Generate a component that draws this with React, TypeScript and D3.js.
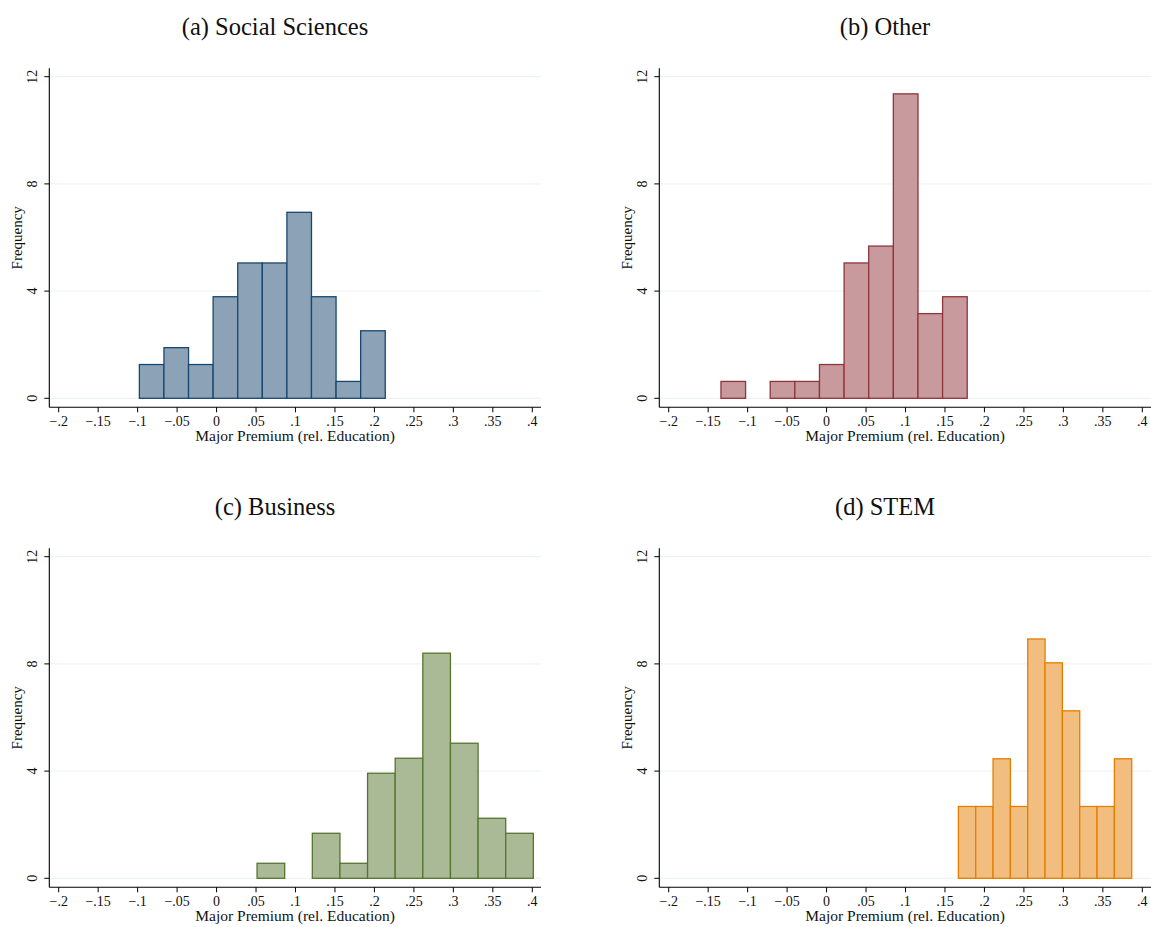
import { useRef, useEffect } from "react";
import * as d3 from "d3";

// panel titles and bar colours (Stata s2color: navy, maroon, forest_green, dkorange)
const titles = ["(a) Social Sciences", "(b) Other", "(c) Business", "(d) STEM"];
const strokeColors = ["#1a476f", "#90353b", "#55752f", "#e37e00"];
const fillColors = ["#8ca3b7", "#c89a9d", "#aaba97", "#f1be80"];

// histogram bins: first edge and bin width per panel
const binStart = [-0.0978, -0.1338, 0.0513, 0.167];
const binWidth = [0.03115, 0.0312, 0.035, 0.02196];

// bar heights (Frequency)
const socialSciences = [1.26, 1.89, 1.26, 3.79, 5.05, 5.05, 6.94, 3.79, 0.63, 2.52];
const other = [0.63, 0, 0.63, 0.63, 1.26, 5.05, 5.68, 11.36, 3.16, 3.79];
const business = [0.56, 0, 1.68, 0.56, 3.92, 4.48, 8.4, 5.04, 2.24, 1.68];
const stem = [2.68, 2.68, 4.46, 2.68, 8.93, 8.04, 6.25, 2.68, 2.68, 4.46];
const series = [socialSciences, other, business, stem];

const xTicks = [-0.2, -0.15, -0.1, -0.05, 0, 0.05, 0.1, 0.15, 0.2, 0.25, 0.3, 0.35, 0.4];
const yTicks = [0, 4, 8, 12];

const W = 1151;
const H = 927;
const FONT = "'Liberation Serif', 'DejaVu Serif', serif";

function fmtX(v: number) {
  if (Math.abs(v) < 1e-9) return "0";
  const s = d3.format(".2~f")(Math.abs(v)).replace(/^0/, "");
  return (v < 0 ? "\u2212" : "") + s;
}

export default function App() {
  const svgRef = useRef<SVGSVGElement | null>(null);

  useEffect(() => {
    const svg = d3.select(svgRef.current);
    svg.selectAll("*").remove();

    // layout of one panel (top-left), others offset
    const dx = 610;
    const dy = 480;
    const left = 49.3;
    const right = 541;
    const top = 68.3;
    const bottom = 407.3;

    series.forEach((vals, pi) => {
      const ox = (pi % 2) * dx;
      const oy = Math.floor(pi / 2) * dy;
      const g = svg.append("g").attr("transform", `translate(${ox},${oy})`);

      const x = d3.scaleLinear().domain([-0.2, 0.4]).range([58.7, 532.3]);
      const y = d3.scaleLinear().domain([0, 12]).range([398.3, 76.7]);

      // title
      g.append("text")
        .attr("x", 275)
        .attr("y", 35)
        .attr("text-anchor", "middle")
        .attr("font-family", FONT)
        .attr("font-size", 24.5)
        .attr("fill", "#111")
        .text(titles[pi]);

      // gridlines
      g.selectAll("line.grid")
        .data(yTicks)
        .join("line")
        .attr("class", "grid")
        .attr("x1", left)
        .attr("x2", right)
        .attr("y1", (d) => y(d))
        .attr("y2", (d) => y(d))
        .attr("stroke", "#eaf2f3")
        .attr("stroke-width", 1);

      // bars
      const bins = vals.map((v, i) => ({
        x0: binStart[pi] + i * binWidth[pi],
        x1: binStart[pi] + (i + 1) * binWidth[pi],
        v,
      }));
      g.selectAll("rect.bar")
        .data(bins.filter((b) => b.v > 0))
        .join("rect")
        .attr("class", "bar")
        .attr("x", (d) => x(d.x0))
        .attr("width", (d) => x(d.x1) - x(d.x0))
        .attr("y", (d) => y(d.v))
        .attr("height", (d) => y(0) - y(d.v))
        .attr("fill", fillColors[pi])
        .attr("stroke", strokeColors[pi])
        .attr("stroke-width", 1.3);

      // axis lines
      g.append("line")
        .attr("x1", left)
        .attr("x2", left)
        .attr("y1", top)
        .attr("y2", bottom)
        .attr("stroke", "#000")
        .attr("stroke-width", 1.1);
      g.append("line")
        .attr("x1", left)
        .attr("x2", right)
        .attr("y1", bottom)
        .attr("y2", bottom)
        .attr("stroke", "#000")
        .attr("stroke-width", 1.1);

      // y ticks
      g.selectAll("line.ytick")
        .data(yTicks)
        .join("line")
        .attr("class", "ytick")
        .attr("x1", left - 5)
        .attr("x2", left)
        .attr("y1", (d) => y(d))
        .attr("y2", (d) => y(d))
        .attr("stroke", "#000");
      g.selectAll("text.ylab")
        .data(yTicks)
        .join("text")
        .attr("class", "ylab")
        .attr("transform", (d) => `translate(37,${y(d)}) rotate(-90)`)
        .attr("text-anchor", "middle")
        .attr("font-family", FONT)
        .attr("font-size", 14)
        .attr("fill", "#111")
        .text((d) => String(d));

      // x ticks
      g.selectAll("line.xtick")
        .data(xTicks)
        .join("line")
        .attr("class", "xtick")
        .attr("x1", (d) => x(d))
        .attr("x2", (d) => x(d))
        .attr("y1", bottom)
        .attr("y2", bottom + 5)
        .attr("stroke", "#000");
      g.selectAll("text.xlab")
        .data(xTicks)
        .join("text")
        .attr("class", "xlab")
        .attr("x", (d) => x(d))
        .attr("y", 425.5)
        .attr("text-anchor", "middle")
        .attr("font-family", FONT)
        .attr("font-size", 14)
        .attr("fill", "#111")
        .text((d) => fmtX(d));

      // axis titles
      g.append("text")
        .attr("x", (left + right) / 2)
        .attr("y", 441)
        .attr("text-anchor", "middle")
        .attr("font-family", FONT)
        .attr("font-size", 15.5)
        .attr("fill", "#111")
        .text("Major Premium (rel. Education)");
      g.append("text")
        .attr("transform", `translate(22,${(top + bottom) / 2}) rotate(-90)`)
        .attr("text-anchor", "middle")
        .attr("font-family", FONT)
        .attr("font-size", 15)
        .attr("fill", "#111")
        .text("Frequency");
    });
  }, []);

  return (
    <svg
      ref={svgRef}
      width={W}
      height={H}
      style={{ position: "absolute", left: 0, top: 0, background: "#fff" }}
    />
  );
}
